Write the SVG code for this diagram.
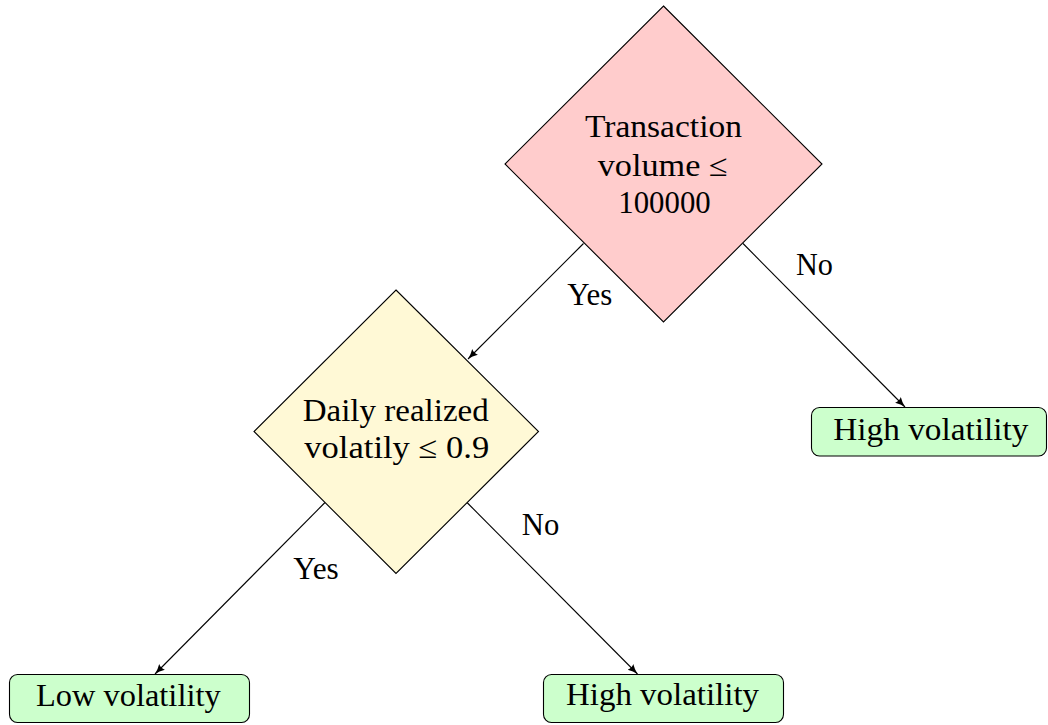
<svg xmlns="http://www.w3.org/2000/svg" width="1048" height="725" viewBox="0 0 1048 725">
<style>
  text { font-family: "Liberation Serif", "Times New Roman", serif; font-size: 31px; fill: #000; text-anchor: middle; }
  .dia { stroke: #000; stroke-width: 1.1; }
  .leaf { fill: #ccffcc; stroke: #000; stroke-width: 1.1; }
  .edge { stroke: #000; stroke-width: 1.1; fill: none; marker-end: url(#arr); }
</style>
<defs>
  <marker id="arr" markerUnits="userSpaceOnUse" markerWidth="12" markerHeight="10" refX="10" refY="4" orient="auto">
    <path d="M0,0 Q5,3 10,4 Q5,5 0,8 Q2,4 0,0 z" fill="#000"/>
  </marker>
</defs>
<rect width="1048" height="725" fill="#fff"/>
<g id="connectors">
  <line class="edge" x1="583.5" y1="243.5" x2="468" y2="359"/>
  <line class="edge" x1="743" y1="243.5" x2="905" y2="407"/>
  <line class="edge" x1="325" y1="502.5" x2="155" y2="674"/>
  <line class="edge" x1="467" y1="502.5" x2="637.5" y2="674"/>
  <text x="589.8" y="305" textLength="45" lengthAdjust="spacingAndGlyphs">Yes</text>
  <text x="814.5" y="275" textLength="37" lengthAdjust="spacingAndGlyphs">No</text>
  <text x="316" y="579" textLength="45.5" lengthAdjust="spacingAndGlyphs">Yes</text>
  <text x="540.5" y="535" textLength="37.5" lengthAdjust="spacingAndGlyphs">No</text>
</g>
<g id="node-volume">
  <polygon class="dia" fill="#ffcccc" points="663.5,6 822,164 663.5,322 505,164"/>
  <text x="663.5" y="137" textLength="157" lengthAdjust="spacingAndGlyphs">Transaction</text>
  <text x="662.7" y="176" textLength="130" lengthAdjust="spacingAndGlyphs">volume ≤</text>
  <text x="664.5" y="213" textLength="92.4" lengthAdjust="spacingAndGlyphs">100000</text>
</g>
<g id="node-volatility">
  <polygon class="dia" fill="#fff9d6" points="396,290 538.5,431.5 396,573.5 254,431.5"/>
  <text x="395.7" y="421" textLength="186" lengthAdjust="spacingAndGlyphs">Daily realized</text>
  <text x="396.8" y="458" textLength="185" lengthAdjust="spacingAndGlyphs">volatily ≤ 0.9</text>
</g>
<g id="leaf-high-right">
  <rect class="leaf" x="811.5" y="407.5" width="235" height="48.5" rx="8" ry="8"/>
  <text x="930.8" y="440" textLength="195" lengthAdjust="spacingAndGlyphs">High volatility</text>
</g>
<g id="leaf-low">
  <rect class="leaf" x="9.5" y="674.5" width="240" height="48" rx="8" ry="8"/>
  <text x="128.3" y="706" textLength="184.7" lengthAdjust="spacingAndGlyphs">Low volatility</text>
</g>
<g id="leaf-high-mid">
  <rect class="leaf" x="543.5" y="674.5" width="240" height="48" rx="8" ry="8"/>
  <text x="662.5" y="705" textLength="193" lengthAdjust="spacingAndGlyphs">High volatility</text>
</g>
</svg>
